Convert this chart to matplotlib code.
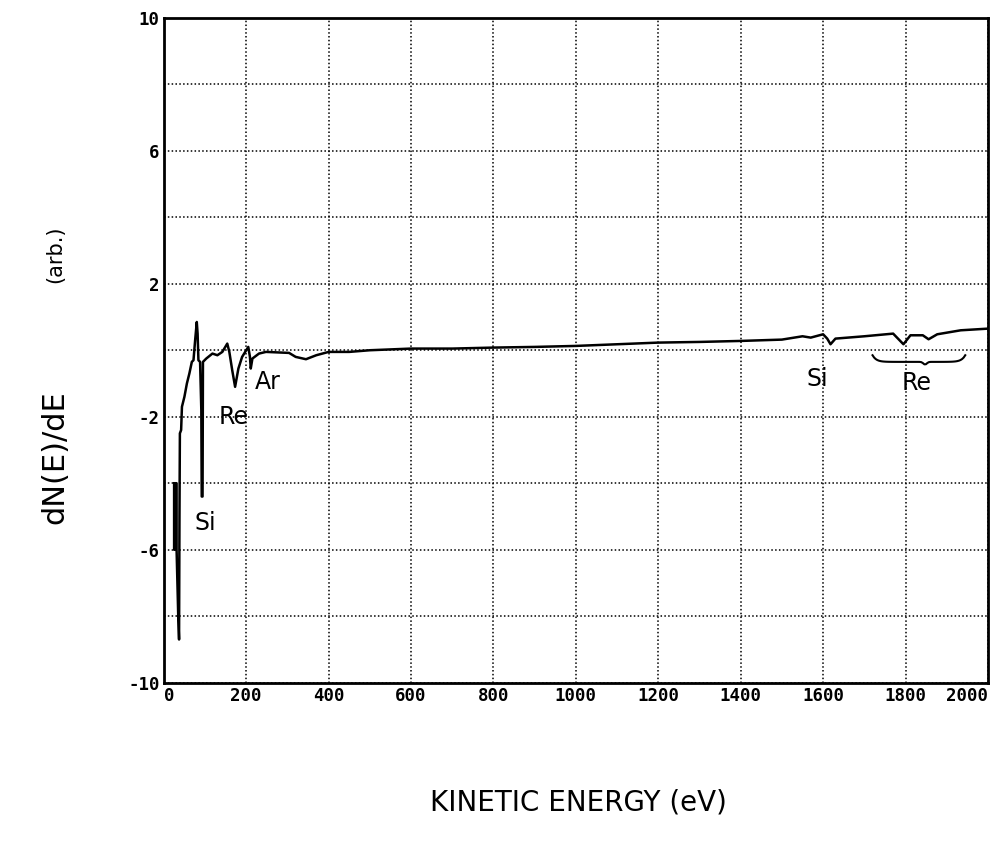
import matplotlib.pyplot as plt
import numpy as np

# Auger spectrum, derivative mode
energy = [25, 25, 28, 28, 31, 31, 35, 37, 38, 39, 42, 44, 50, 56, 62, 68, 72, 76, 80,
          82, 84, 88, 91, 92, 94, 95, 103, 118, 130, 142, 154, 159, 166, 173, 181,
          190, 205, 209, 211, 215, 231, 248, 304, 320, 345, 370, 400, 450, 500,
          600, 700, 800, 900, 1000, 1100, 1200, 1300, 1400, 1500, 1550, 1570,
          1600, 1610, 1618, 1630, 1700, 1770, 1795, 1812, 1842, 1856, 1877,
          1934, 2000]
dnde = [-4.0, -6.0, -6.0, -4.0, -4.0, -6.0, -8.0, -8.7, -5.0, -2.5, -2.4, -1.7, -1.4,
        -1.0, -0.7, -0.35, -0.3, 0.3, 0.85, 0.5, -0.3, -0.35, -1.8, -4.4, -4.4,
        -0.35, -0.25, -0.1, -0.15, -0.05, 0.2, -0.05, -0.6, -1.1, -0.55, -0.2,
        0.1, -0.2, -0.55, -0.25, -0.1, -0.05, -0.08, -0.2, -0.27, -0.15, -0.05,
        -0.05, 0.0, 0.05, 0.05, 0.08, 0.1, 0.13, 0.18, 0.23, 0.25, 0.28, 0.32,
        0.42, 0.38, 0.48, 0.35, 0.18, 0.35, 0.42, 0.5, 0.18, 0.45, 0.45, 0.33,
        0.48, 0.6, 0.65]

xticks = [0, 200, 400, 600, 800, 1000, 1200, 1400, 1600, 1800, 2000]
yticks = [-10, -8, -6, -4, -2, 0, 2, 4, 6, 8, 10]
ylabels = ['-10', '', '-6', '', '-2', '', '2', '', '6', '', '10']

# peak labels: text, x, y
peaks = [('Si', 75, -5.2), ('Re', 132, -2.0), ('Ar', 221, -0.97),
         ('Si', 1560, -0.87), ('Re', 1790, -1.0)]
brace_start, brace_end, brace_y = 1720, 1945, -0.35

fig = plt.figure(figsize=(10.05, 8.46), dpi=100)
ax = fig.add_axes([0.163, 0.193, 0.82, 0.786])

ax.plot(energy, dnde, color='black', lw=1.8)

ax.set_xlim(0, 2000)
ax.set_ylim(-10, 10)
ax.set_xticks(xticks)
ax.set_yticks(yticks)
ax.set_yticklabels(ylabels)
ax.tick_params(length=0, pad=3)
for lab in ax.get_xticklabels() + ax.get_yticklabels():
    lab.set_family('DejaVu Sans Mono')
    lab.set_fontweight('bold')
    lab.set_fontsize(12.5)
# keep the end labels inside the frame edge
xl = ax.get_xticklabels()
xl[0].set_horizontalalignment('left')
xl[-1].set_horizontalalignment('right')
ax.grid(True, color='black', linestyle=(0, (1, 1.5)), lw=1.1)
for s in ax.spines.values():
    s.set_linewidth(2)

hand = dict(family='DejaVu Sans', fontsize=17, color='black')
for txt, x, y in peaks:
    ax.text(x, y, txt, ha='left', va='center', **hand)

# brace under the Re group
bx = np.linspace(brace_start, brace_end, 60)
t = (bx - brace_start) / (brace_end - brace_start)
by = brace_y + 0.2 * (np.exp(-t / 0.04) + np.exp(-(1 - t) / 0.04))
mid = (brace_start + brace_end) / 2 + 15
by -= 0.08 * np.exp(-((bx - mid) / 6) ** 2)
ax.plot(bx, by, color='black', lw=1.5)

fig.text(0.576, 0.052, 'KINETIC ENERGY (eV)', ha='center', va='center',
         fontsize=20, family='DejaVu Sans')
fig.text(0.055, 0.46, 'dN(E)/dE', rotation=90, ha='center', va='center',
         fontsize=22, family='DejaVu Sans')
fig.text(0.055, 0.70, '(arb.)', rotation=90, ha='center', va='center',
         fontsize=15, family='DejaVu Sans')

fig.savefig('out.png', dpi=100)
